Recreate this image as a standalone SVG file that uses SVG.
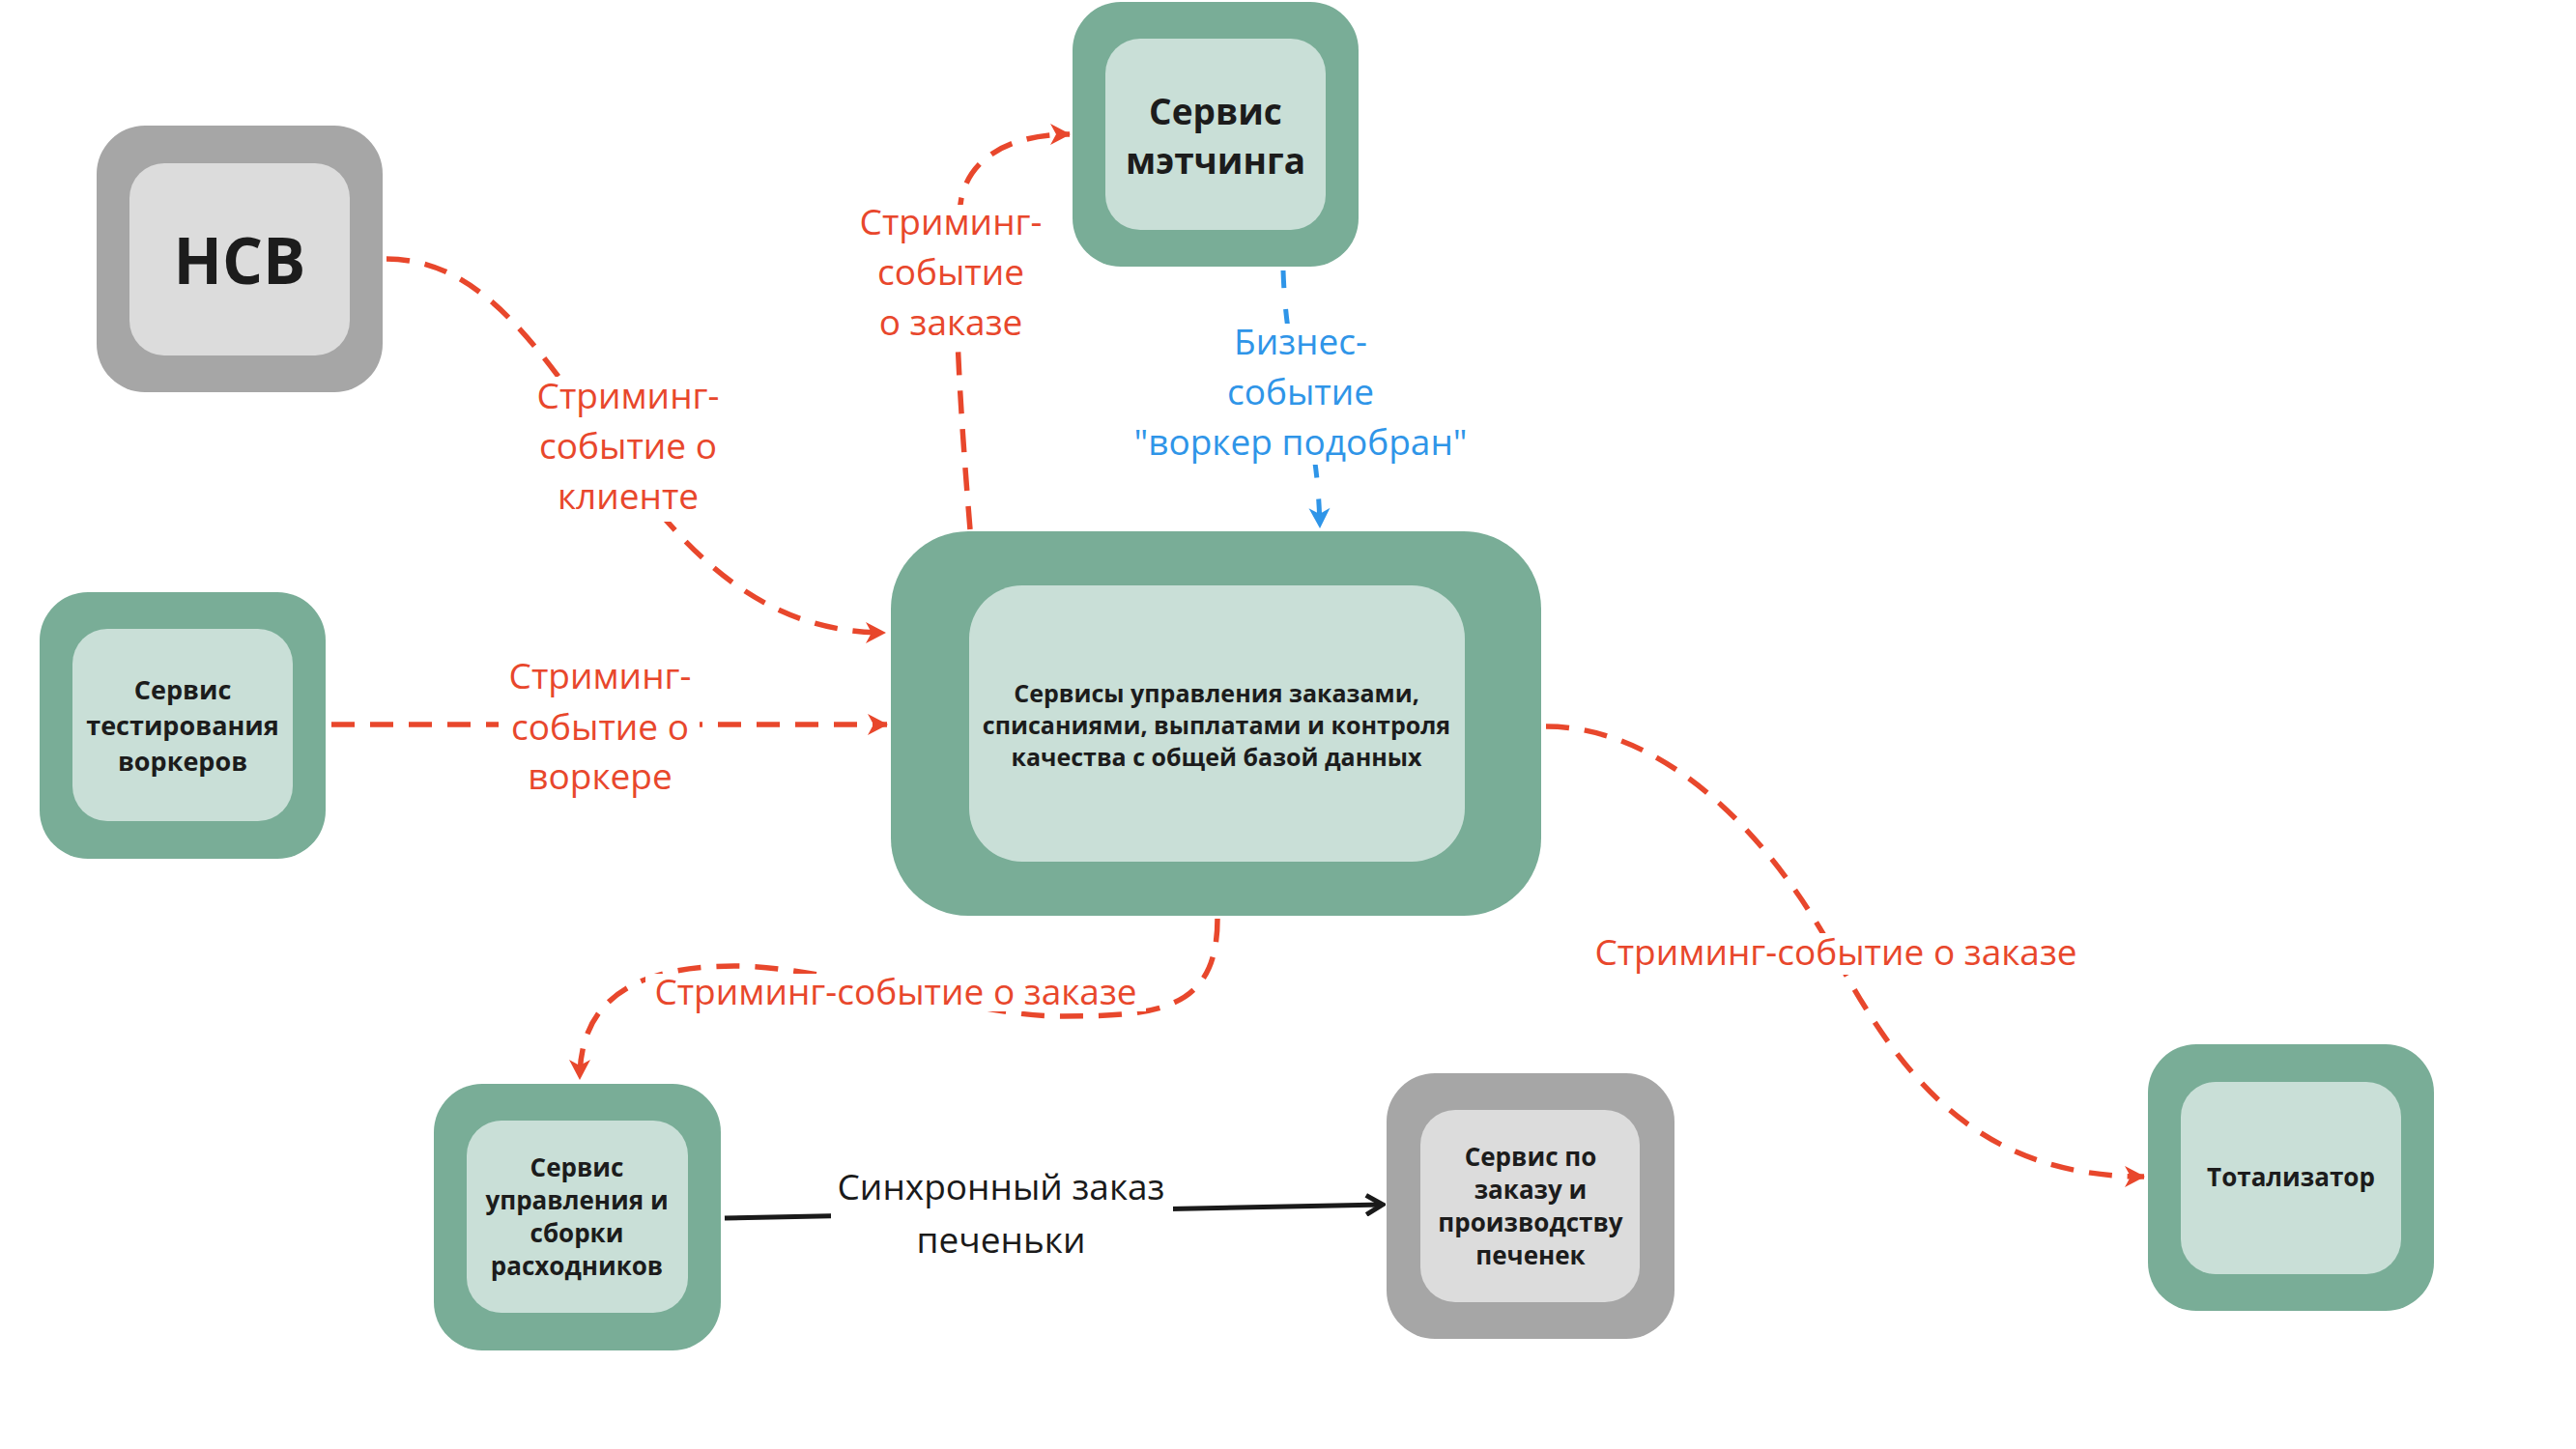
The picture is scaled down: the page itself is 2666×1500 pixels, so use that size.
<svg xmlns="http://www.w3.org/2000/svg" width="2666" height="1500" viewBox="0 0 2666 1500">
<style>
.og{fill:#79AD97}
.ig{fill:#C9DFD7}
.ogr{fill:#A6A6A6}
.igr{fill:#DCDCDC}
.nt{font-family:"Open Sans","Noto Sans","DejaVu Sans",sans-serif;font-weight:700;fill:#1c1c1c;text-anchor:middle}
.lbl{font-family:"Open Sans","Noto Sans","DejaVu Sans",sans-serif;font-size:37px;text-anchor:middle}
.red{fill:#E8472C}
.blue{fill:#2F95E8}
.blk{fill:#1a1a1a}
.bg{fill:#FFFFFF}
.dr{fill:none;stroke:#E8472C;stroke-width:5.5;stroke-dasharray:24 16}
.db{fill:none;stroke:#2F95E8;stroke-width:5;stroke-dasharray:18 22}
.sb{fill:none;stroke:#1a1a1a;stroke-width:5}
</style>
<defs>
<marker id="ar" viewBox="0 0 24 24" refX="22" refY="12" markerWidth="24" markerHeight="24" markerUnits="userSpaceOnUse" orient="auto">
<path d="M2,1 L23,12 L2,23 L8,12 z" fill="#E8472C"/>
</marker>
<marker id="ab" viewBox="0 0 24 24" refX="22" refY="12" markerWidth="24" markerHeight="24" markerUnits="userSpaceOnUse" orient="auto">
<path d="M2,1 L23,12 L2,23 L8,12 z" fill="#2F95E8"/>
</marker>
<marker id="ak" viewBox="0 0 24 24" refX="21" refY="12" markerWidth="24" markerHeight="24" markerUnits="userSpaceOnUse" orient="auto">
<path d="M4,2 L21,12 L4,22" fill="none" stroke="#1a1a1a" stroke-width="5" stroke-linejoin="miter"/>
</marker>
</defs>
<rect width="2666" height="1500" fill="#FFFFFF"/>

<g id="node-hcb">
<rect class="ogr" x="100" y="130" width="296" height="276" rx="50"/>
<rect class="igr" x="134" y="169" width="228" height="199" rx="36"/>
<text class="nt" x="248" y="294" font-size="66">НСВ</text>
</g>

<g id="node-matching">
<rect class="og" x="1110" y="2" width="296" height="274" rx="50"/>
<rect class="ig" x="1144" y="40" width="228" height="198" rx="36"/>
<text class="nt" font-size="37"><tspan x="1258" y="129">Сервис</tspan><tspan x="1258" y="180">мэтчинга</tspan></text>
</g>

<g id="node-main">
<rect class="og" x="922" y="550" width="673" height="398" rx="80"/>
<rect class="ig" x="1003" y="606" width="513" height="286" rx="55"/>
<text class="nt" font-size="25"><tspan x="1259" y="727">Сервисы управления заказами,</tspan><tspan x="1259" y="760">списаниями, выплатами и контроля</tspan><tspan x="1259" y="793">качества с общей базой данных</tspan></text>
</g>

<g id="node-testing">
<rect class="og" x="41" y="613" width="296" height="276" rx="50"/>
<rect class="ig" x="75" y="651" width="228" height="199" rx="36"/>
<text class="nt" font-size="27"><tspan x="189" y="724">Сервис</tspan><tspan x="189" y="761">тестирования</tspan><tspan x="189" y="798">воркеров</tspan></text>
</g>

<g id="node-consumables">
<rect class="og" x="449" y="1122" width="297" height="276" rx="50"/>
<rect class="ig" x="483" y="1160" width="229" height="199" rx="36"/>
<text class="nt" font-size="26"><tspan x="597" y="1218">Сервис</tspan><tspan x="597" y="1252">управления и</tspan><tspan x="597" y="1286">сборки</tspan><tspan x="597" y="1320">расходников</tspan></text>
</g>

<g id="node-cookies">
<rect class="ogr" x="1435" y="1111" width="298" height="275" rx="50"/>
<rect class="igr" x="1470" y="1149" width="227" height="199" rx="36"/>
<text class="nt" font-size="26"><tspan x="1584" y="1207">Сервис по</tspan><tspan x="1584" y="1241">заказу и</tspan><tspan x="1584" y="1275">производству</tspan><tspan x="1584" y="1309">печенек</tspan></text>
</g>

<g id="node-totalizator">
<rect class="og" x="2223" y="1081" width="296" height="276" rx="50"/>
<rect class="ig" x="2257" y="1120" width="228" height="199" rx="36"/>
<text class="nt" font-size="26" x="2371" y="1228">Тотализатор</text>
</g>

<g id="connectors">
<path class="dr" d="M400,268 C600,268 640,655 916,655" marker-end="url(#ar)"/>
<path class="dr" d="M343,750 L918,750" marker-end="url(#ar)"/>
<path class="dr" d="M1004,548 C990,380 985,260 995,205 C1005,160 1050,139 1107,139" marker-end="url(#ar)"/>
<path class="db" d="M1328,280 C1332,400 1363,420 1366,546" marker-end="url(#ab)"/>
<path class="dr" d="M1260,951 C1260,1045 1200,1052 1100,1052 C1000,1052 860,1000 760,1000 C650,1000 600,1040 600,1117" marker-end="url(#ar)"/>
<path class="dr" d="M1600,752 C1720,752 1830,860 1900,990 C1970,1120 2050,1218 2219,1218" marker-end="url(#ar)"/>
<path class="sb" d="M750,1261 L1431,1247" marker-end="url(#ak)"/>
</g>

<g id="labels">
<rect class="bg" x="545" y="390" width="210" height="150"/>
<text class="lbl red"><tspan x="650" y="423">Стриминг-</tspan><tspan x="650" y="475">событие о</tspan><tspan x="650" y="527">клиенте</tspan></text>

<rect class="bg" x="516" y="730" width="208" height="48"/>
<text class="lbl red"><tspan x="621" y="713">Стриминг-</tspan><tspan x="621" y="766">событие о</tspan><tspan x="621" y="817">воркере</tspan></text>

<rect class="bg" x="880" y="212" width="210" height="146"/>
<text class="lbl red"><tspan x="984" y="243">Стриминг-</tspan><tspan x="984" y="295">событие</tspan><tspan x="984" y="347">о заказе</tspan></text>

<rect class="bg" x="1158" y="335" width="375" height="146"/>
<text class="lbl blue"><tspan x="1346" y="367">Бизнес-</tspan><tspan x="1346" y="419">событие</tspan><tspan x="1346" y="471">"воркер подобран"</tspan></text>

<rect class="bg" x="668" y="1008" width="518" height="39"/>
<text class="lbl red" x="927" y="1040">Стриминг-событие о заказе</text>

<rect class="bg" x="1641" y="966" width="518" height="43"/>
<text class="lbl red" x="1900" y="999">Стриминг-событие о заказе</text>

<rect class="bg" x="860" y="1208" width="354" height="100"/>
<text class="lbl blk"><tspan x="1036" y="1242">Синхронный заказ</tspan><tspan x="1036" y="1297">печеньки</tspan></text>
</g>
</svg>
